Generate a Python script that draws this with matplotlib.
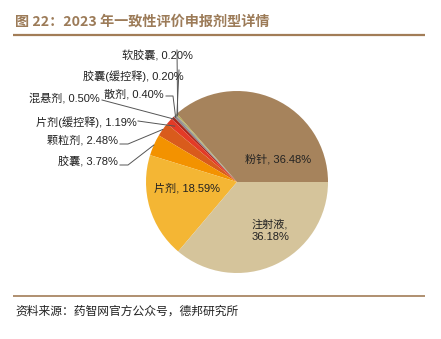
import numpy as np
import matplotlib
matplotlib.use("Agg")
import matplotlib.pyplot as plt

plt.rcParams['font.family'] = ['Noto Sans CJK SC', 'DejaVu Sans']

# data, counter-clockwise from 3 o'clock
categories = ["粉针", "软胶囊", "胶囊(缓控释)", "散剂", "混悬剂", "片剂(缓控释)",
              "颗粒剂", "胶囊", "片剂", "注射液"]
shares = [36.48, 0.20, 0.20, 0.40, 0.50, 1.19, 2.48, 3.78, 18.59, 36.18]
colors = ["#A6835C", "#B5B04A", "#9A948C", "#8C8C8C", "#A8281E", "#E33A26",
          "#D95B1C", "#F39200", "#F4B634", "#D5C49B"]

title = "图 22：2023 年一致性评价申报剂型详情"
source = "资料来源：药智网官方公众号，德邦研究所"

W, H = 441, 339
fig = plt.figure(figsize=(W / 100, H / 100), dpi=100)
ax = fig.add_axes([0, 0, 1, 1])

def Y(y):
    # image row -> axes y
    return H - y

cx, cy, r = 237, Y(182), 91
wedges, _ = ax.pie(shares, colors=colors, startangle=0, counterclock=True,
                   center=(cx, cy), radius=r, frame=True,
                   wedgeprops=dict(linewidth=0.3, edgecolor="none"))
ax.set_xlim(0, W)
ax.set_ylim(0, H)
ax.axis("off")

def anchor(i, k=1.0):
    w = wedges[i]
    a = np.deg2rad((w.theta1 + w.theta2) / 2)
    return cx + k * r * np.cos(a), cy + k * r * np.sin(a)

lab_kw = dict(fontsize=8, color="#222222", va="center",
              family=['Liberation Sans', 'Noto Sans CJK SC'])
line_kw = dict(color="#555555", lw=0.7)

def lbl(i):
    return f"{categories[i]}, {shares[i]:.2f}%"

# small slices with leader lines
ax0, ay0 = anchor(1, 0.98)
ax.plot([ax0, 177], [ay0, Y(50)], **line_kw)
ax.text(193, Y(56), lbl(1), ha="right", **lab_kw)

ax0, ay0 = anchor(2, 0.98)
ax.plot([ax0, 179], [ay0, Y(70)], **line_kw)
ax.text(184, Y(76), lbl(2), ha="right", **lab_kw)

ax0, ay0 = anchor(3, 0.98)
ax.plot([ax0, 173, 166], [ay0, Y(96), Y(96)], **line_kw)
ax.text(164, Y(94), lbl(3), ha="right", **lab_kw)

ax0, ay0 = anchor(4, 0.98)
ax.plot([ax0, 102], [ay0, Y(100)], **line_kw)
ax.text(100, Y(98), lbl(4), ha="right", **lab_kw)

ax0, ay0 = anchor(5, 0.92)
ax.plot([ax0, 138], [ay0, Y(121)], **line_kw)
ax.text(137, Y(122), lbl(5), ha="right", **lab_kw)

ax0, ay0 = anchor(6, 1.0)
ax.plot([ax0, 128, 120], [ay0, Y(144), Y(144)], **line_kw)
ax.text(118, Y(140), lbl(6), ha="right", **lab_kw)

ax0, ay0 = anchor(7, 1.0)
ax.plot([ax0, 128, 120], [ay0, Y(165), Y(165)], **line_kw)
ax.text(118, Y(162), lbl(7), ha="right", **lab_kw)

# inside labels
ax.text(187, Y(188), lbl(8), ha="center", **lab_kw)
ax.text(278, Y(159), lbl(0), ha="center", **lab_kw)
ax.text(270, Y(230), f"{categories[9]},\n{shares[9]:.2f}%", ha="center",
        linespacing=1.3, **lab_kw)

# title, rules and source
brown = "#A27D57"
ax.text(15, Y(22), title, fontsize=10.2, fontweight="bold", color="#9C7B58",
        ha="left", va="center")
ax.plot([13, 425], [Y(35), Y(35)], color=brown, lw=1.6, solid_capstyle="butt")
ax.plot([13, 425], [Y(296), Y(296)], color=brown, lw=1.2, solid_capstyle="butt")
ax.text(15, Y(311), source, fontsize=8.5, color="#222222", ha="left", va="center")

fig.savefig("out.png", dpi=100)
